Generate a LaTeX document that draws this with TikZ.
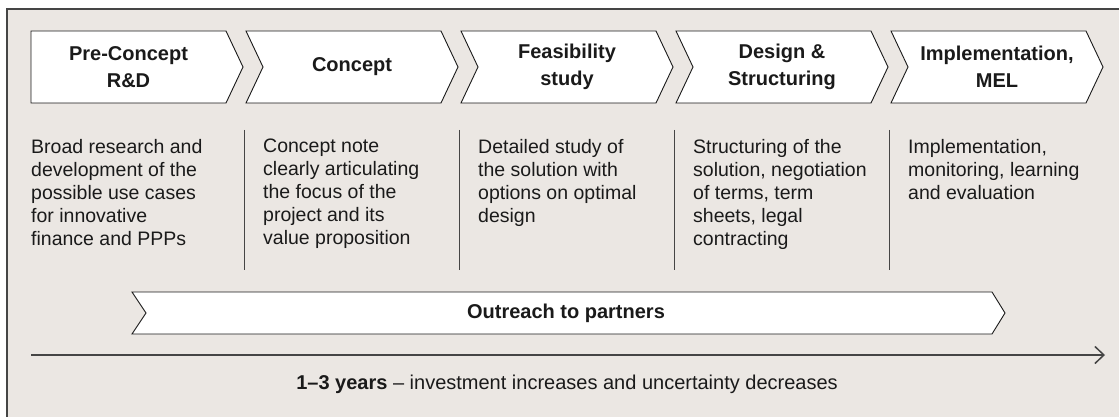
\documentclass[tikz,border=0pt]{standalone}
\usepackage{fontspec}
\setmainfont{Liberation Sans}
\usetikzlibrary{arrows.meta}
\definecolor{panel}{HTML}{EBE7E3}
\definecolor{ink}{HTML}{1A1A1A}
\definecolor{rule}{HTML}{454545}
\tikzset{
  stagebox/.style={draw=ink, fill=white, line width=0.9pt, line join=miter},
  stagetitle/.style={font=\fontsize{20}{26.5}\selectfont\bfseries, align=center, text=ink, inner sep=0pt},
  stagetext/.style={font=\fontsize{19.5}{23}\selectfont, align=left, text=ink, inner sep=0pt, anchor=north west},
}
\begin{document}
\begin{tikzpicture}[x=1pt,y=-1pt]
  \useasboundingbox (0,0) rectangle (1119,417);
  % background panel, open to the right and bottom
  \fill[panel] (7,9) rectangle (1119,417);
  \draw[rule, line width=1.3pt] (7,417) -- (7,9) -- (1119,9);

  % the five stages, each a chevron with its text below
  \foreach \i/\title/\desc in {
      0/{Pre-Concept\\R\&D}/{Broad research and\\development of the\\possible use cases\\for innovative\\finance and PPPs},
      1/{Concept}/{Concept note\\clearly articulating\\the focus of the\\project and its\\value proposition},
      2/{Feasibility\\study}/{Detailed study of\\the solution with\\options on optimal\\design},
      3/{Design \&\\Structuring}/{Structuring of the\\solution, negotiation\\of terms, term\\sheets, legal\\contracting},
      4/{Implementation,\\MEL}/{Implementation,\\monitoring, learning\\and evaluation}}{
    \pgfmathsetmacro{\x}{31+215*\i}
    \pgfmathsetmacro{\n}{\i==0 ? 0 : 17}
    \draw[stagebox] (\x,31) -- (\x+195,31) -- (\x+212,67) -- (\x+195,103)
      -- (\x,103) -- (\x+\n,67) -- cycle;
    \node[stagetitle] (s\i) at ({\x+(\n+195)/2},67) {\title};
    \node[stagetext] (d\i) at (\x+\n,139) {\desc};
    \ifnum\i>0 \draw[rule, line width=0.9pt] (\x-2,130) -- (\x-2,270); \fi
  }

  % outreach bar
  \draw[stagebox] (132,292) -- (992,292) -- (1005,313) -- (992,334)
    -- (132,334) -- (146,313) -- cycle;
  \node[stagetitle] (outreach) at (566,313) {Outreach to partners};

  % time axis
  \coordinate (tstart) at (31,355);
  \coordinate (tend) at (1105,355);
  \draw[rule, line width=1.5pt, -{Straight Barb[length=9pt,width=17pt]}] (tstart) -- (tend);
  \node[font=\fontsize{20}{23}\selectfont, text=ink, anchor=base, inner sep=0pt] (span) at (567,389)
    {\textbf{1--3 years} -- investment increases and uncertainty decreases};
\end{tikzpicture}
\end{document}
